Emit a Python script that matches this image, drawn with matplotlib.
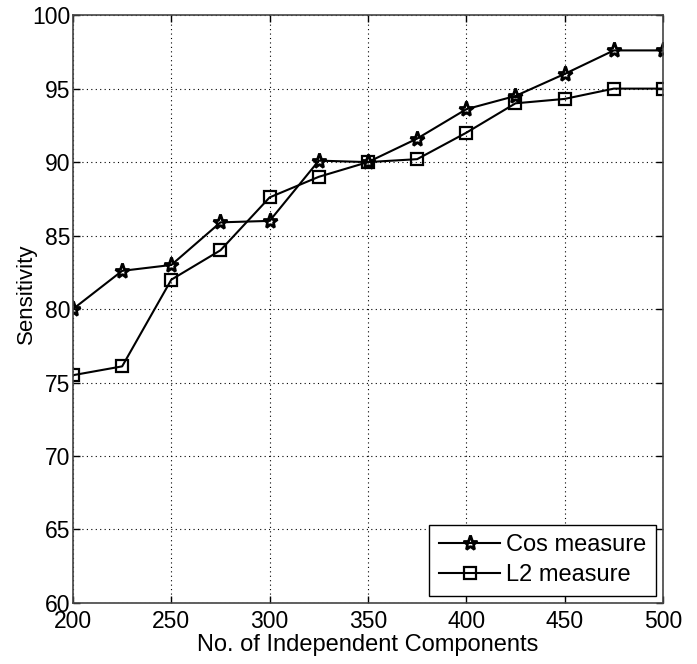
import matplotlib
matplotlib.use('Agg')
import matplotlib.pyplot as plt

plt.rcParams.update({
    'font.family': 'Liberation Sans',
    'xtick.labelsize': 16.5,
    'ytick.labelsize': 16.5,
    'axes.labelsize': 16.5,
})

# data
n_components = [200, 225, 250, 275, 300, 325, 350, 375, 400, 425, 450, 475, 500]
cos_measure = [80.0, 82.6, 83.0, 85.9, 86.0, 90.1, 90.0, 91.6, 93.6, 94.5, 96.0, 97.6, 97.6]
l2_measure = [75.5, 76.1, 82.0, 84.0, 87.6, 89.0, 90.0, 90.2, 92.0, 94.0, 94.3, 95.0, 95.0]
xticks = [200, 250, 300, 350, 400, 450, 500]
yticks = [60, 65, 70, 75, 80, 85, 90, 95, 100]

fig = plt.figure(figsize=(6.97, 6.64), dpi=100)
ax = fig.add_axes([0.1047, 0.0919, 0.8465, 0.8853])

ax.plot(n_components, cos_measure, color='black', lw=1.5, marker='*',
        markersize=11, markerfacecolor='none', markeredgewidth=2.0, label='Cos measure')
ax.plot(n_components, l2_measure, color='black', lw=1.5, marker='s',
        markersize=8.5, markerfacecolor='none', markeredgewidth=1.6, label='L2 measure')

ax.set_xlim(200, 500)
ax.set_ylim(60, 100)
ax.set_xticks(xticks)
ax.set_yticks(yticks)

# matlab-ish look: dotted grid, ticks inside on all sides
ax.grid(True, color='black', linestyle=(0, (1, 3)), linewidth=0.8)
ax.tick_params(direction='in', top=True, right=True, length=5, width=1, pad=2)
ax.tick_params(axis='x', pad=5)
for spine in ax.spines.values():
    spine.set_color('#444444')
    spine.set_linewidth(1.2)

ax.set_xlabel('No. of Independent Components', fontsize=17, labelpad=1)
ax.set_ylabel('Sensitivity', fontsize=16)
ax.yaxis.set_label_coords(-0.061, 0.526)

leg = ax.legend(loc='lower right', fontsize=17, frameon=True, fancybox=False,
                edgecolor='black', framealpha=1, handlelength=2.6,
                handletextpad=0.25, borderpad=0.4, labelspacing=0.35,
                borderaxespad=0.3)
leg.get_frame().set_linewidth(1.0)

fig.savefig('out.png', dpi=100)
